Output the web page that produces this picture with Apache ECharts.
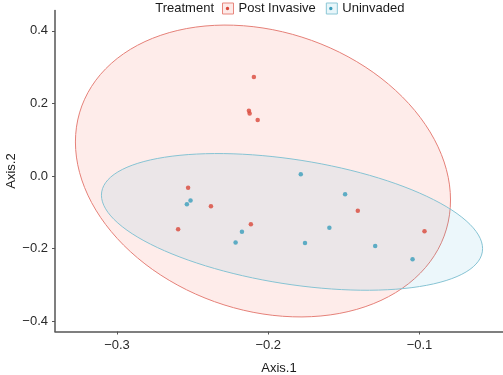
<!DOCTYPE html>
<html>
<head>
<meta charset="utf-8">
<script src="https://cdn.jsdelivr.net/npm/echarts@6/dist/echarts.min.js"></script>
<style>
  html, body { margin: 0; padding: 0; background: #fff; }
  #chart { width: 503px; height: 375px; }
</style>
</head>
<body>
<div id="chart"></div>
<script>
    // points
    var postX = [-0.2095, -0.2128, -0.2123, -0.2070, -0.2530, -0.2379, -0.2596, -0.2115, -0.1408, -0.0967];
    var postY = [0.2726, 0.1796, 0.1724, 0.1540, -0.0328, -0.0833, -0.1468, -0.1330, -0.0962, -0.1523];
    var uninvX = [-0.2514, -0.2538, -0.2174, -0.2216, -0.1785, -0.1492, -0.1596, -0.1757, -0.1293, -0.1046];
    var uninvY = [-0.0677, -0.0778, -0.1540, -0.1836, 0.0050, -0.0502, -0.1430, -0.1845, -0.1928, -0.2295];

    // ellipse: centre x, centre y, then shape terms (cholesky of the spread)
    var postEllipse = [-0.2035, 0.0137, 0.1240, -0.0800, 0.3942];
    var uninvEllipse = [-0.1843, -0.1266, 0.1260, -0.0737, 0.1734];

    var xTicks = [-0.3, -0.2, -0.1];
    var yTicks = [-0.4, -0.2, 0.0, 0.2, 0.4];

    var font = "'Liberation Sans', Arial, Helvetica, sans-serif";

    function pairs(xs, ys) {
        return xs.map(function (x, i) { return [x, ys[i]]; });
    }

    function outline(e) {
        var pts = [];
        for (var i = 0; i < 120; i++) {
            var t = i / 120 * Math.PI * 2;
            pts.push([e[0] + e[2] * Math.cos(t), e[1] + e[3] * Math.cos(t) + e[4] * Math.sin(t)]);
        }
        return pts;
    }

    function ellipseSeries(name, e, fill, stroke) {
        var pts = outline(e);
        return {
            name: name,
            type: 'custom',
            silent: true,
            data: [[e[0], e[1]]],
            renderItem: function (params, api) {
                return {
                    type: 'polygon',
                    shape: { points: pts.map(function (p) { return api.coord(p); }) },
                    style: { fill: fill, stroke: stroke, lineWidth: 1 }
                };
            }
        };
    }

    function minus(v) {
        return (v < 0 ? '\u2212' : '') + Math.abs(v).toFixed(1);
    }

    var dot = 'path://M0,0M11,11M5.5,3.8A1.7,1.7,0,1,1,5.5,7.2A1.7,1.7,0,1,1,5.5,3.8Z';

    var myChart = echarts.init(document.getElementById('chart'));
    var option = {
        animation: false,
        textStyle: { fontFamily: font },
        grid: { left: 55, right: 0, top: 10.5, bottom: 43.5, outerBoundsMode: 'none' },
        graphic: [{
            type: 'text',
            x: 214, y: 8,
            style: { text: 'Treatment', textAlign: 'right', textVerticalAlign: 'middle', font: '13px ' + font, fill: '#1a1a1a' }
        }],
        legend: [{
            left: 217, top: -3,
            itemWidth: 11, itemHeight: 11, itemGap: 10,
            textStyle: { fontSize: 13, color: '#1a1a1a', fontFamily: font },
            data: [
                { name: 'Post Invasive', icon: 'rect', itemStyle: { color: '#fdeae8', borderColor: '#e8867d', borderWidth: 1 } },
                { name: 'Uninvaded', icon: 'rect', itemStyle: { color: '#e8f6fa', borderColor: '#8cc7d6', borderWidth: 1 } }
            ]
        }, {
            left: 217, top: -3,
            itemWidth: 11, itemHeight: 11, itemGap: 10,
            textStyle: { fontSize: 13, color: 'rgba(0,0,0,0)', fontFamily: font },
            data: [
                { name: 'Post Invasive', icon: dot, itemStyle: { color: '#d9473a', borderWidth: 0 } },
                { name: 'Uninvaded', icon: dot, itemStyle: { color: '#3a9dbb', borderWidth: 0 } }
            ]
        }],
        xAxis: {
            type: 'value',
            min: -0.341, max: -0.0448,
            name: 'Axis.1', nameLocation: 'middle', nameGap: 30, nameMoveOverlap: false,
            nameTextStyle: { fontSize: 13, color: '#1a1a1a' },
            axisLine: { onZero: false, lineStyle: { color: '#555', width: 1.5 } },
            axisTick: { customValues: xTicks, length: 3, lineStyle: { color: '#555' } },
            axisLabel: { customValues: xTicks, formatter: minus, fontSize: 13, color: '#2a2a2a', margin: 7 },
            splitLine: { show: false }
        },
        yAxis: {
            type: 'value',
            min: -0.4287, max: 0.4561,
            name: 'Axis.2', nameLocation: 'middle', nameGap: 37, nameMoveOverlap: false,
            nameTextStyle: { fontSize: 13, color: '#1a1a1a' },
            axisLine: { show: true, onZero: false, lineStyle: { color: '#555', width: 1.5 } },
            axisTick: { show: true, customValues: yTicks, length: 3, lineStyle: { color: '#555' } },
            axisLabel: { customValues: yTicks, formatter: minus, fontSize: 13, color: '#2a2a2a', margin: 7 },
            splitLine: { show: false }
        },
        series: [
            ellipseSeries('Post Invasive', postEllipse, 'rgba(248,118,109,0.14)', '#e58078'),
            ellipseSeries('Uninvaded', uninvEllipse, 'rgba(40,170,215,0.09)', '#86c3d3'),
            {
                name: 'Post Invasive',
                type: 'scatter',
                symbolSize: 4.5,
                itemStyle: { color: '#d9473a' },
                data: pairs(postX, postY)
            },
            {
                name: 'Uninvaded',
                type: 'scatter',
                symbolSize: 4.5,
                itemStyle: { color: '#3a9dbb' },
                data: pairs(uninvX, uninvY)
            }
        ]
    };
    myChart.setOption(option);
</script>
</body>
</html>
